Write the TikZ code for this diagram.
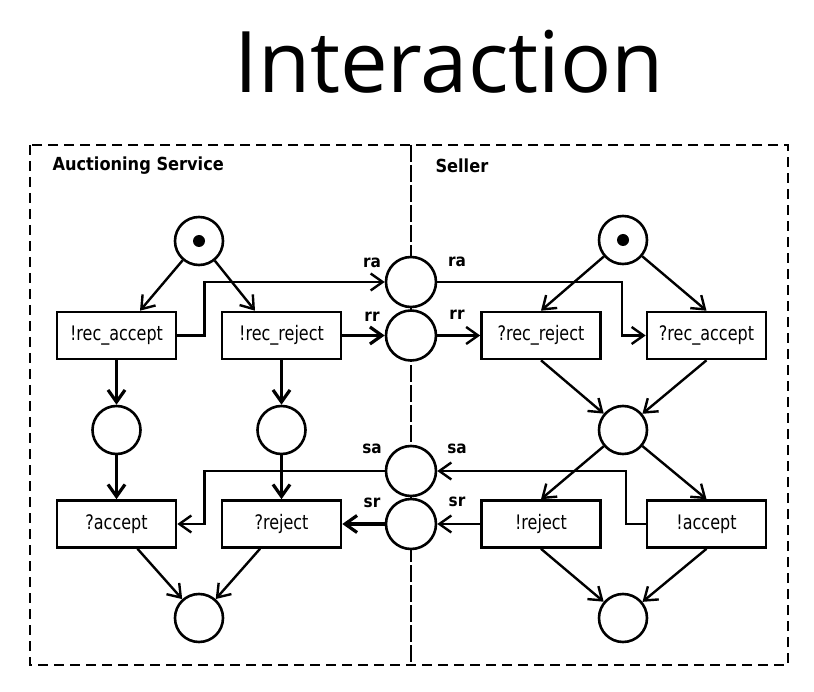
\documentclass[tikz,border=0pt]{standalone}
\usepackage{fontspec}
\setmainfont{DejaVu Sans}
\newfontfamily\titlefont{Open Sans}
\newfontfamily\boxfont{DejaVu Sans}[FakeStretch=0.8]
\newfontfamily\labelfont{DejaVu Sans}[FakeStretch=0.9]
\usetikzlibrary{arrows.meta,positioning}

\tikzset{
  place/.style={circle,draw,line width=2.6pt,fill=white,minimum size=48pt,inner sep=0pt},
  channel/.style={place,minimum size=50pt},
  transition/.style={rectangle,draw,line width=2.6pt,fill=white,minimum width=119pt,minimum height=47pt,inner sep=0pt,font=\boxfont\fontsize{20}{20}\selectfont},
  arc/.style={line width=2.4pt,-{Straight Barb[length=12pt,width=17pt]}},
  heavy/.style={arc,line width=3.2pt},
  chanlabel/.style={font=\labelfont\bfseries\fontsize{17}{17}\selectfont},
  partlabel/.style={font=\labelfont\bfseries\fontsize{18}{18}\selectfont,anchor=west},
  frame/.style={line width=2.2pt,dash pattern=on 10pt off 6pt},
  divider/.style={line width=1.8pt,dash pattern=on 17pt off 3pt},
}

\begin{document}
\begin{tikzpicture}[x=1pt,y=-1pt]
\useasboundingbox (0,0) rectangle (814,692);
% title
\node[font=\titlefont\fontsize{85}{85}\selectfont,anchor=base] (title) at (449,93) {Interaction};
% frame and divider
\draw[frame] (30,145) rectangle (788,665);
\draw[divider] (411,145) -- (411,665);
\node[partlabel] (auction) at (49,166) {Auctioning Service};
\node[partlabel] (seller) at (432,166) {Seller};
% channel places
\node[channel] (ra) at (411,282) {};
\node[channel] (rr) at (411,335.5) {};
\node[channel] (sa) at (411,471) {};
\node[channel] (sr) at (411,524) {};
\node[chanlabel] (raL) at ([shift={(-39,-19)}]ra) {ra};
\node[chanlabel] (raR) at ([shift={(46,-20)}]ra) {ra};
\node[chanlabel] (rrL) at ([shift={(-39,-19)}]rr) {rr};
\node[chanlabel] (rrR) at ([shift={(46,-21)}]rr) {rr};
\node[chanlabel] (saL) at ([shift={(-39,-22)}]sa) {sa};
\node[chanlabel] (saR) at ([shift={(46,-22)}]sa) {sa};
\node[chanlabel] (srL) at ([shift={(-39,-21)}]sr) {sr};
\node[chanlabel] (srR) at ([shift={(46,-22)}]sr) {sr};
% auctioning service
\node[place] (ain) at (199,241) {};
\fill (ain.center) circle (6pt);
\node[transition] (recA) at (116.5,335.5) {!rec\_accept};
\node[transition] (recR) at (281.5,335.5) {!rec\_reject};
\node[place] (pa) at (116.5,430) {};
\node[place] (pr) at (281.5,430) {};
\node[transition] (qacc) at (116.5,524) {?accept};
\node[transition] (qrej) at (281.5,524) {?reject};
\node[place] (aout) at (199,618) {};
% seller
\node[place] (sin) at (623,240) {};
\fill (sin.center) circle (6pt);
\node[transition] (srecR) at (541,335.5) {?rec\_reject};
\node[transition] (srecA) at (706.5,335.5) {?rec\_accept};
\node[place] (sp) at (623,430) {};
\node[transition] (srej) at (541,524) {!reject};
\node[transition] (sacc) at (706.5,524) {!accept};
\node[place] (sout) at (623,618) {};
% auctioning service arcs
\draw[arc] (ain) -- ([xshift=23.5]recA.north);
\draw[arc] (ain) -- ([xshift=-26.5]recR.north);
\draw[heavy] (recA) -- (pa);
\draw[heavy] (recR) -- (pr);
\draw[heavy] (pa) -- (qacc);
\draw[heavy] (pr) -- (qrej);
\draw[arc] ([xshift=21]qacc.south) -- (aout);
\draw[arc] ([xshift=-21.5]qrej.south) -- (aout);
\draw[arc] (recA.east) -- ++(27,0) |- (ra.west);
\draw[heavy] (recR) -- (rr);
\draw[arc] (sa.west) -| ([xshift=27]qacc.east) -- (qacc.east);
\draw[heavy] (sr) -- (qrej);
% seller arcs
\draw[arc] (sin) -- (srecR.north);
\draw[arc] (sin) -- (srecA.north);
\draw[arc] (srecR.south) -- (sp);
\draw[arc] (srecA.south) -- (sp);
\draw[arc] (sp) -- (srej.north);
\draw[arc] (sp) -- (sacc.north);
\draw[arc] (srej.south) -- (sout);
\draw[arc] (sacc.south) -- (sout);
\draw[arc] (ra.east) -| ([xshift=-24]srecA.west) -- (srecA.west);
\draw[arc] (rr) -- (srecR);
\draw[arc] (sacc.west) -- ++(-20,0) |- (sa.east);
\draw[arc] (srej) -- (sr);
\end{tikzpicture}
\end{document}
